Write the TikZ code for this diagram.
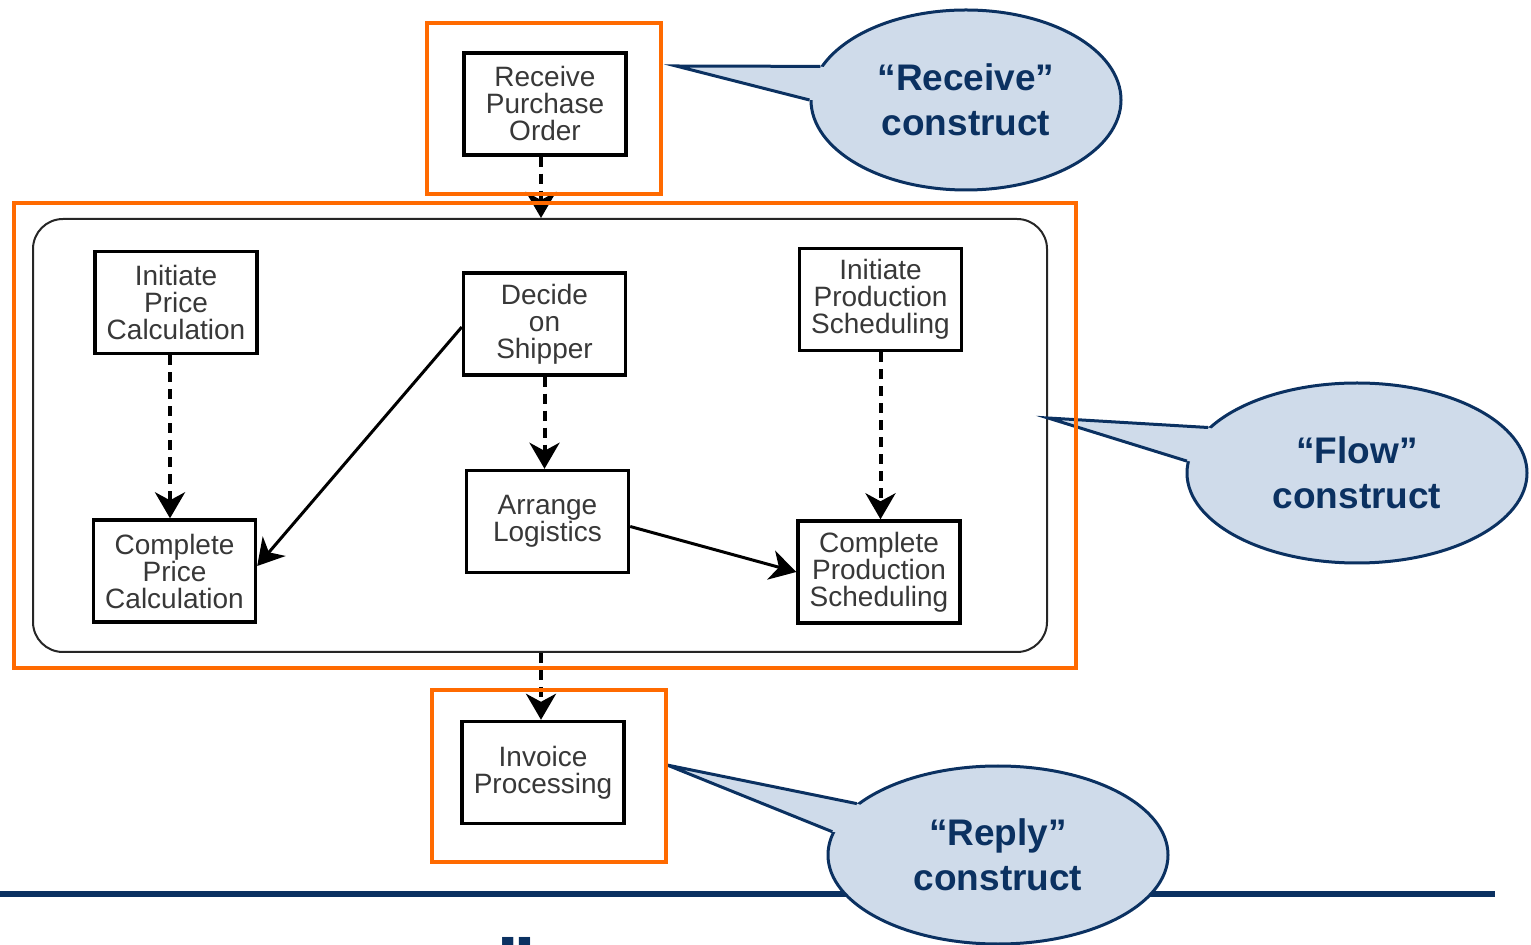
\documentclass[tikz,border=0pt]{standalone}
\usepackage{fontspec}
\setmainfont{Liberation Sans}
\usetikzlibrary{arrows.meta,shapes.geometric,calc}
\definecolor{navy}{HTML}{0B3161}
\definecolor{bubble}{HTML}{CFDBEA}
\definecolor{hilite}{HTML}{FF6A00}

\begin{document}
\begin{tikzpicture}[x=0.5pt,y=-0.5pt,
  task/.style={draw=black, line width=1.7pt, fill=white, minimum width=81pt,
    minimum height=51pt, inner sep=0pt, align=center, text=black!78,
    font=\fontsize{14}{13.5}\selectfont},
  flowline/.style={line width=2pt, dash pattern=on 5pt off 3.5pt,
    -{Stealth[length=13pt,width=15pt,inset=4pt]}},
  solidline/.style={line width=1.5pt,
    -{Stealth[length=13pt,width=15pt,inset=4pt]}},
  callout/.style={ellipse, fill=bubble, draw=navy, line width=1.5pt,
    inner sep=0pt, text=navy, align=center,
    font=\bfseries\fontsize{18.5}{22.5}\selectfont},
  tailedge/.style={draw=navy, line width=1.5pt, line join=miter},
  scopebox/.style={draw=hilite, line width=2pt}
]
\clip (0,0) rectangle (1531,945);

% flow container
\node[draw=black!85, line width=1pt, rounded corners=15pt,
  minimum width=507pt, minimum height=216.5pt] (flow) at (540,435.5) {};

% activities
\node[task] (rpo) at (545,104) {Receive\\Purchase\\Order};
\node[task] (ipc) at (176,302.5) {Initiate\\Price\\Calculation};
\node[task] (cpc) at (174.5,571) {Complete\\Price\\Calculation};
\node[task] (dos) at (544.5,324) {Decide\\on\\Shipper};
\node[task] (al)  at (547.5,521.5) {Arrange\\Logistics};
\node[task] (ips) at (880.5,299.5) {Initiate\\Production\\Scheduling};
\node[task] (cps) at (879,572) {Complete\\Production\\Scheduling};
\node[task] (inv) at (543,772.5) {Invoice\\Processing};

% links
\draw[flowline] ([xshift=-2pt]rpo.south) -- ([xshift=-2pt]rpo.south |- flow.north);
\draw[flowline] ([xshift=-3pt]ipc.south) -- ([xshift=-3pt]ipc.south |- cpc.north);
\draw[flowline] (dos.south) -- (dos.south |- al.north);
\draw[flowline] (ips.south) -- (ips.south |- cps.north);
\draw[solidline] ([yshift=-1.5pt]dos.west) -- ([yshift=2.5pt]cpc.east);
\draw[solidline] ([yshift=-2.5pt]al.east) -- (cps.west);
\draw[flowline] ([xshift=-1pt]inv.north |- flow.south) -- ([xshift=-1pt]inv.north);

% footer rule
\draw[navy, line width=2.6pt] (0,894) -- (1495,894);
\node[inner sep=0pt, anchor=north, text=navy,
  font=\bfseries\fontsize{40}{40}\selectfont] (mark) at (516,937) {”};

% callouts
\coordinate (rtip) at (676,66);
\coordinate (ftip) at (1048,418);
\coordinate (ytip) at (667,765);

\node[callout, minimum width=155pt, minimum height=90pt] (rc) at (966,100)
  {“Receive”\\construct};
\fill[bubble] (rtip) -- (rc.167) -- ($(rc.167)!0.1!(rc.center)$)
  -- ($(rc.180)!0.1!(rc.center)$) -- (rc.180) -- cycle;
\draw[tailedge] (rc.167) -- (rtip) -- (rc.180);

\node[callout, minimum width=170pt, minimum height=90pt] (fc) at (1357,473)
  {“Flow”\\construct};
\fill[bubble] (ftip) -- (fc.163.7) -- ($(fc.163.7)!0.1!(fc.center)$)
  -- ($(fc.176.2)!0.1!(fc.center)$) -- (fc.176.2) -- cycle;
\draw[tailedge] (fc.163.7) -- (ftip) -- (fc.176.2);

\node[callout, minimum width=170pt, minimum height=89pt] (yc) at (998,855)
  {“Reply”\\construct};
\fill[bubble] (ytip) -- (yc.160) -- ($(yc.160)!0.1!(yc.center)$)
  -- ($(yc.172)!0.1!(yc.center)$) -- (yc.172) -- cycle;
\draw[tailedge] (yc.160) -- (ytip) -- (yc.172);

% construct frames
\draw[scopebox] (427,23) rectangle (661,194);
\draw[scopebox] (14,203) rectangle (1076,668);
\draw[scopebox] (432,690) rectangle (666,862);
\end{tikzpicture}
\end{document}
